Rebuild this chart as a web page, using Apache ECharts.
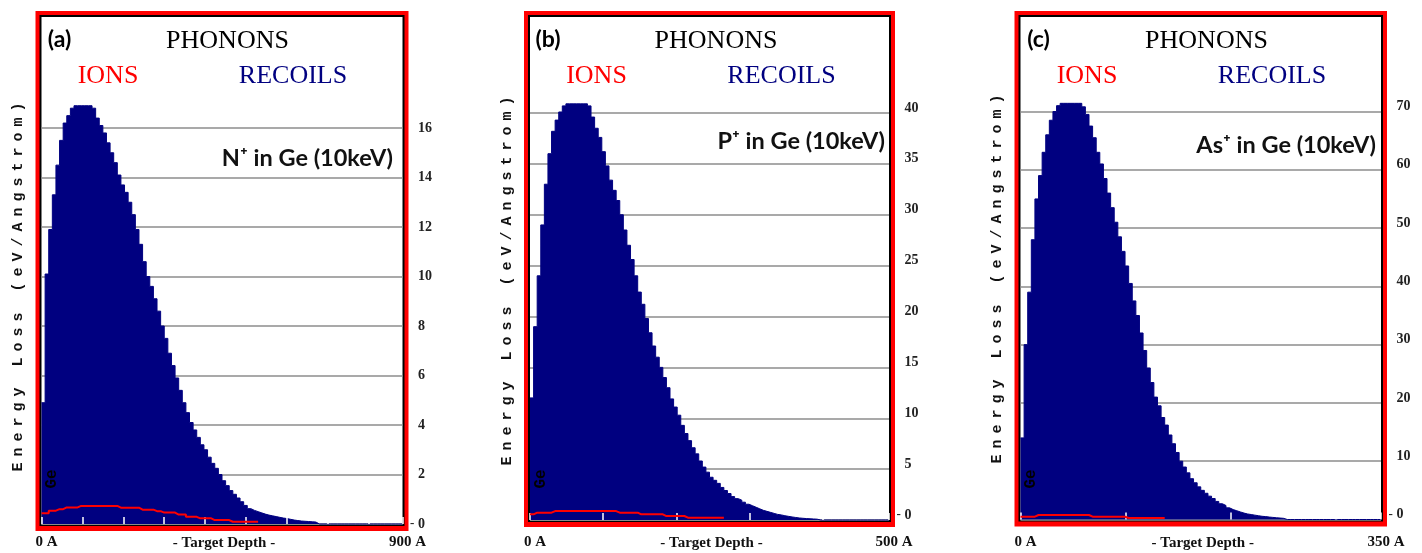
<!DOCTYPE html>
<html><head><meta charset="utf-8">
<script src="https://cdn.jsdelivr.net/npm/echarts@6/dist/echarts.min.js"></script>
<style>html,body{margin:0;padding:0;background:#fff}#c{width:1422px;height:553px}</style>
</head><body><div id="c"></div>
<script>
// ---------- data ----------
const panelLetters = ['(a)', '(b)', '(c)'];
const ionLabels = ['N\u207A in Ge (10keV)', 'P\u207A in Ge (10keV)', 'As\u207A in Ge (10keV)'];
const headerTexts = ['PHONONS', 'IONS', 'RECOILS'];
const xAxisTitle = '- Target Depth -';
const yAxisTitle = 'Energy Loss (eV/Angstrom)';
const targetLabel = 'Ge';
const depthMax = [900, 500, 350];     // Angstrom
const depthTick = 102;                // Angstrom between tick marks
const yMax = [16, 40, 70];
const yStep = [2, 5, 10];

const recoilsA = [
  4.9, 10.1, 11.9, 13.3, 14.5, 15.5, 16.2, 16.5, 16.8, 16.9,
  16.9, 16.9, 16.9, 16.9, 16.8, 16.4, 16.1, 15.8, 15.4, 15.0,
  14.6, 14.1, 13.7, 13.4, 13.0, 12.5, 11.9, 11.3, 10.6, 10.0,
  9.6, 9.1, 8.6, 8.0, 7.5, 6.9, 6.4, 5.9, 5.4, 4.9,
  4.5, 4.1, 3.8, 3.5, 3.2, 3.0, 2.7, 2.45, 2.25, 2.0,
  1.75, 1.55, 1.35, 1.2, 1.05, 0.9, 0.75, 0.62, 0.55, 0.5,
  0.45, 0.4, 0.36, 0.33, 0.3, 0.27, 0.24, 0.22, 0.19, 0.16,
  0.14, 0.12, 0.11, 0.1, 0.09, 0.08, 0, 0, 0, 0,
  0, 0, 0, 0, 0, 0, 0, 0, 0, 0,
  0, 0, 0, 0, 0, 0, 0, 0, 0, 0
];
const ionsA = [
  0.43, 0.43, 0.54, 0.54, 0.60, 0.60, 0.67, 0.67, 0.67, 0.67,
  0.73, 0.73, 0.73, 0.73, 0.73, 0.73, 0.73, 0.73, 0.73, 0.73,
  0.73, 0.66, 0.66, 0.66, 0.66, 0.66, 0.66, 0.58, 0.58, 0.58,
  0.58, 0.52, 0.52, 0.46, 0.46, 0.46, 0.46, 0.38, 0.38, 0.38,
  0.29, 0.29, 0.29, 0.23, 0.23, 0.23, 0.23, 0.16, 0.16, 0.16,
  0.16, 0.16, 0.09, 0.09, 0.09, 0.09, 0.09, 0.09, 0.09, 0.09
];
const recoilsB = [
  12, 19, 24, 29, 33, 36, 38.2, 39.3, 40.1, 40.7,
  40.9, 40.9, 40.9, 40.9, 40.9, 40.9, 40.7, 39.6, 38.5, 37.6,
  36.2, 34.8, 33.4, 32.4, 31.4, 30.0, 28.5, 27.0, 25.6, 24.0,
  22.4, 21.2, 19.8, 18.4, 17.1, 16.0, 15.0, 14.0, 13.0, 11.9,
  11.1, 10.3, 9.3, 8.5, 7.8, 7.1, 6.5, 5.8, 5.2, 4.7,
  4.2, 3.9, 3.6, 3.2, 2.9, 2.6, 2.3, 2.1, 1.95, 1.75,
  1.55, 1.4, 1.25, 1.1, 0.95, 0.85, 0.75, 0.65, 0.55, 0.5,
  0.42, 0.36, 0.3, 0.25, 0.2, 0.17, 0.14, 0.12, 0.1, 0.08,
  0, 0, 0, 0, 0, 0, 0, 0, 0, 0,
  0, 0, 0, 0, 0, 0, 0, 0, 0, 0
];
const ionsB = [
  0.56, 0.72, 0.72, 0.72, 0.72, 0.72, 0.88, 0.88, 0.88, 0.88,
  0.88, 0.88, 0.88, 0.88, 0.88, 0.88, 0.88, 0.88, 0.88, 0.88,
  0.88, 0.88, 0.88, 0.88, 0.72, 0.72, 0.72, 0.72, 0.72, 0.72,
  0.56, 0.56, 0.56, 0.56, 0.56, 0.56, 0.56, 0.39, 0.39, 0.39,
  0.39, 0.39, 0.39, 0.23, 0.23, 0.23, 0.23, 0.23, 0.23, 0.23,
  0.23, 0.23, 0.23, 0.23
];
const recoilsC = [
  14, 30, 39, 48, 55, 59, 63, 66, 68.5, 70,
  71, 71.4, 71.4, 71.4, 71.4, 71.4, 71.4, 70.8, 69.5, 67.5,
  65.5, 63, 61, 58.5, 56, 53.5, 51, 48.5, 46, 43.5,
  40.5, 37.5, 35, 32, 29, 26, 23.5, 21, 19.5, 17.5,
  16.2, 14.5, 13, 11.5, 10, 9, 8, 7, 6.3, 5.6,
  5.0, 4.5, 4.0, 3.6, 3.1, 2.7, 2.4, 2.0, 1.7, 1.5,
  1.3, 1.1, 0.95, 0.85, 0.75, 0.65, 0.55, 0.5, 0.42, 0.36,
  0.3, 0.25, 0.2, 0, 0, 0, 0, 0, 0, 0,
  0, 0, 0, 0, 0, 0, 0, 0, 0, 0,
  0, 0, 0, 0, 0, 0, 0, 0, 0, 0
];
const ionsC = [
  0.48, 0.48, 0.48, 0.48, 0.77, 0.77, 0.77, 0.77, 0.77, 0.77,
  0.77, 0.77, 0.77, 0.77, 0.77, 0.77, 0.77, 0.77, 0.77, 0.48,
  0.48, 0.48, 0.48, 0.48, 0.48, 0.48, 0.48, 0.48, 0.48, 0.26,
  0.26, 0.26, 0.26, 0.26, 0.26, 0.26, 0.26, 0.26, 0.26, 0.26
];
const recoils = [recoilsA, recoilsB, recoilsC];
const ions = [ionsA, ionsB, ionsC];

// ---------- layout / style ----------
const NAVY = '#000080', RED = '#ff0000';
const L = [
  {pl: 41.5, pr: 402.5, yt: 128, y0: 524, ionX: 393, ionY: 158, labShift: 0, titleY: 287},
  {pl: 530, pr: 889, yt: 113, y0: 520, ionX: 885, ionY: 141, labShift: 5, titleY: 281},
  {pl: 1020.5, pr: 1381, yt: 111.5, y0: 519.5, ionX: 1376, ionY: 145, labShift: 5, titleY: 279}
];
const SERIF = '"Liberation Serif", "Times New Roman", serif';

function steps(vals, binW) {
  const d = vals.map((v, i) => [i * binW, v]);
  d.push([vals.length * binW, vals[vals.length - 1]]);
  return d;
}

const graphic = [];
const titleRich = yAxisTitle.split('').map(ch => '{c|' + ch + '}').join('');
L.forEach((p, i) => {
  // frames
  graphic.push({type: 'rect', z: 0, shape: {x: p.pl - 6, y: 11, width: p.pr - p.pl + 12, height: p.y0 + 7 - 11}, style: {fill: RED}});
  graphic.push({type: 'rect', z: 0, shape: {x: p.pl - 2, y: 15, width: p.pr - p.pl + 4, height: p.y0 + 2 - 15}, style: {fill: '#000'}});
  graphic.push({type: 'rect', z: 0, shape: {x: p.pl, y: 17, width: p.pr - p.pl, height: p.y0 + 0.5 - 17}, style: {fill: '#fff'}});
  // header texts
  graphic.push({type: 'text', z: 10, x: p.pl + 18, y: 40, style: {text: panelLetters[i], font: 'bold 23px Lato, "Liberation Sans", sans-serif', fill: '#000', align: 'center', verticalAlign: 'middle'}});
  graphic.push({type: 'text', z: 10, x: p.pl + 186, y: 41, style: {text: headerTexts[0], font: '26px ' + SERIF, fill: '#000', align: 'center', verticalAlign: 'middle'}});
  graphic.push({type: 'text', z: 10, x: p.pl + 66.5, y: 76.5, style: {text: headerTexts[1], font: '26px ' + SERIF, fill: RED, align: 'center', verticalAlign: 'middle'}});
  graphic.push({type: 'text', z: 10, x: p.pl + 251.5, y: 76.5, style: {text: headerTexts[2], font: '26px ' + SERIF, fill: NAVY, align: 'center', verticalAlign: 'middle'}});
  graphic.push({type: 'text', z: 10, x: p.ionX, y: p.ionY, style: {text: ionLabels[i], font: 'bold 23.5px Lato, "Liberation Sans", sans-serif', fill: '#111', align: 'right', verticalAlign: 'middle'}});
  // left axis title (rotated)
  graphic.push({type: 'text', z: 10, x: p.pl - 23, y: p.titleY, rotation: Math.PI / 2, style: {
    text: titleRich, align: 'center', verticalAlign: 'middle', fill: '#111',
    rich: {c: {width: 15, align: 'center', fontSize: 15, fontWeight: 'bold', fontFamily: '"Liberation Mono", "DejaVu Sans Mono", monospace'}}
  }});
  // target label
  graphic.push({type: 'text', z: 10, x: p.pl + 10.5, y: 479, rotation: Math.PI / 2, style: {text: targetLabel, font: 'bold 16px "Liberation Mono", monospace', fill: '#000', align: 'center', verticalAlign: 'middle'}});
});

const option = {
  animation: false,
  backgroundColor: '#fff',
  graphic: graphic,
  grid: L.map(p => ({left: p.pl, top: p.yt, width: p.pr - p.pl, height: p.y0 - p.yt, containLabel: false, outerBoundsMode: 'none'})),
  xAxis: L.map((p, i) => ({
    type: 'value', gridIndex: i, min: 0, max: depthMax[i], interval: depthTick, z: 5,
    axisLine: {show: false}, splitLine: {show: false},
    axisTick: {show: true, inside: true, length: 7, lineStyle: {color: '#fff', width: 1.5}},
    axisLabel: {
      show: true, margin: 542 - 7.5 - p.y0, padding: [0, 0, 0, 10], color: '#111',
      fontFamily: SERIF, fontSize: 15, fontWeight: 'bold',
      formatter: v => (v === 0 ? '0 A' : (Math.abs(v - depthMax[i]) < 1e-6 ? depthMax[i] + ' A' : ''))
    },
    name: xAxisTitle, nameLocation: 'middle', nameGap: 543 - 7.5 - p.y0, nameMoveOverlap: false,
    nameTextStyle: {fontFamily: SERIF, fontSize: 15, fontWeight: 'bold', color: '#111', padding: [0, 0, 0, 4]}
  })),
  yAxis: L.map((p, i) => ({
    type: 'value', gridIndex: i, position: 'right', min: 0, max: yMax[i], interval: yStep[i], z: 1,
    axisLine: {show: false}, axisTick: {show: false},
    splitLine: {show: true, lineStyle: {color: '#8c8c8c', width: 1.5}},
    axisLabel: {
      margin: 7.5, align: 'left', padding: [0, 0, 2 * p.labShift, 0],
      formatter: v => (v === 0 ? '{d|-}' : '{d|}') + '{n|' + v + '}',
      rich: {
        d: {width: 8, fontSize: 13, fontWeight: 'bold', fontFamily: SERIF, color: '#222'},
        n: {fontSize: 14, fontWeight: 'bold', fontFamily: SERIF, color: '#222'}
      }
    }
  })),
  series: []
};
L.forEach((p, i) => {
  const binW = depthMax[i] / recoils[i].length;
  option.series.push({
    name: 'RECOILS', type: 'line', xAxisIndex: i, yAxisIndex: i, data: steps(recoils[i], binW),
    step: 'end', symbol: 'none', clip: false, z: 3,
    lineStyle: {width: 1, color: NAVY}, areaStyle: {color: NAVY, opacity: 1}
  });
  option.series.push({
    name: 'IONS', type: 'line', xAxisIndex: i, yAxisIndex: i, data: steps(ions[i], binW),
    step: 'end', symbol: 'none', clip: false, z: 6,
    lineStyle: {width: 2, color: RED}
  });
});
const chart = echarts.init(document.getElementById('c'), null, {renderer: 'canvas'});
chart.setOption(option);
</script></body></html>
